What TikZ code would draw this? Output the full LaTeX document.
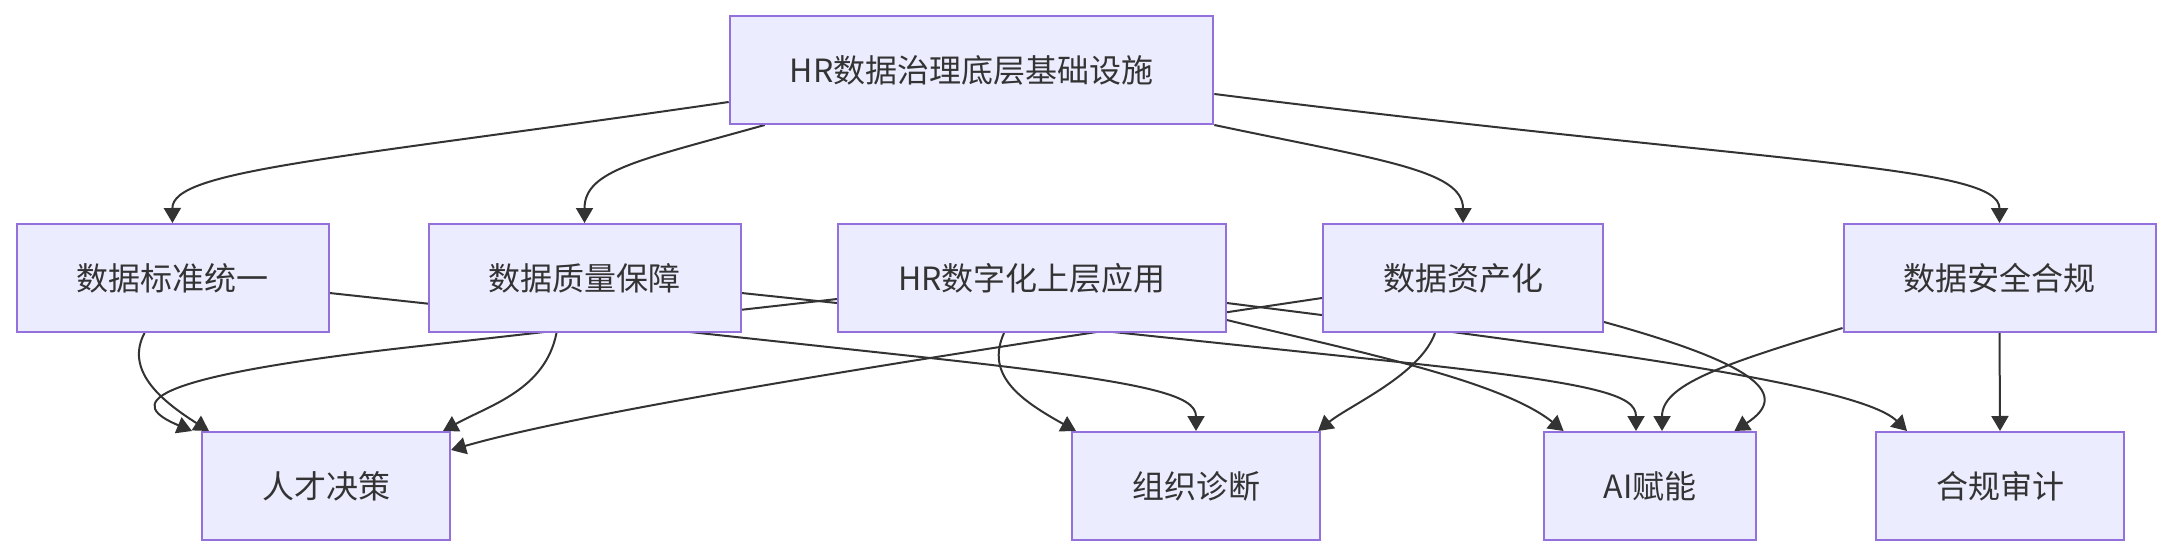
\documentclass[tikz,border=0pt]{standalone}
\usepackage{fontspec}
\newfontfamily\cjk{Noto Sans CJK SC}
\usetikzlibrary{arrows.meta,calc,backgrounds}
\definecolor{boxfill}{HTML}{ECECFF}
\definecolor{boxline}{HTML}{9370DB}
\definecolor{ink}{HTML}{333333}

\begin{document}
\begin{tikzpicture}[x=0.5pt, y=-0.5pt,
    box/.style={draw=boxline, fill=boxfill, line width=1pt, text=ink,
        minimum height=54pt, inner xsep=30pt, inner ysep=0pt,
        font=\cjk\fontsize{16pt}{19pt}\selectfont},
    link/.style={draw=ink, line width=1pt, -{Triangle[length=7.5pt,width=8.5pt]}}]
    \useasboundingbox (0,0) rectangle (2171,556);

    % Basis
    \node[box] (infra) at (971.5,70) {HR数据治理底层基础设施};

    % Mittlere Reihe
    \node[box] (std)      at (172.5,278)  {数据标准统一};
    \node[box] (quality)  at (584.5,278)  {数据质量保障};
    \node[box] (digital)  at (1032,278)   {HR数字化上层应用};
    \node[box] (asset)    at (1463,278)   {数据资产化};
    \node[box] (security) at (1999.5,278) {数据安全合规};

    % Anwendungen
    \node[box] (talent)  at (326,486)  {人才决策};
    \node[box] (orgdiag) at (1196,486) {组织诊断};
    \node[box] (ai)      at (1650,486) {AI赋能};
    \node[box] (audit)   at (2000,486) {合规审计};

    \begin{pgfonlayer}{background}
    % Basis -> mittlere Reihe
    \draw[link] ($(infra.west)+(0,32)$) .. controls (330,160) and (172,170) .. (std.north);
    \draw[link] ($(infra.south west)+(36,0)$) .. controls (640,160) and (584.5,170) .. (quality.north);
    \draw[link] (infra.south east) .. controls (1380,160) and (1463,170) .. (asset.north);
    \draw[link] ($(infra.east)+(0,24)$) .. controls (1780,165) and (1999.5,165) .. (security.north);

    % mittlere Reihe -> Anwendungen
    \draw[link] ($(std.south)+(-28,0)$) .. controls (125,370) and (160,400) .. ($(talent.north west)+(8,0)$);
    \draw[link] ($(std.east)+(0,15)$) -- (930,358) .. controls (1150,382) and (1196,395) .. (orgdiag.north);
    \draw[link] ($(quality.south)+(-28,0)$) .. controls (545,390) and (490,405) .. ($(talent.north east)+(-8,0)$);
    \draw[link] ($(quality.east)+(0,15)$) -- (1380,360) .. controls (1600,383) and (1636,395) .. ($(ai.north)+(-14,0)$);
    \draw[link] ($(digital.west)+(0,21)$) -- (420,346) .. controls (130,378) and (130,405) .. ($(talent.north west)+(-9,0)$);
    \draw[link] ($(digital.south)+(-28,0)$) .. controls (985,375) and (1020,400) .. ($(orgdiag.north west)+(5,0)$);
    \draw[link] ($(digital.east)+(0,42)$) .. controls (1350,350) and (1500,380) .. ($(ai.north west)+(21,0)$);
    \draw[link] ($(digital.east)+(0,25)$) .. controls (1600,350) and (1860,385) .. ($(audit.north west)+(32,0)$);
    \draw[link] ($(asset.west)+(0,20)$) .. controls (1000,346) and (600,407) .. ($(talent.east)+(0,-36)$);
    \draw[link] ($(asset.south)+(-28,0)$) .. controls (1420,375) and (1350,405) .. ($(orgdiag.north east)+(-3,0)$);
    \draw[link] ($(asset.east)+(0,44)$) .. controls (1760,365) and (1790,395) .. ($(ai.north east)+(-23,0)$);
    \draw[link] ($(security.west)+(0,50)$) .. controls (1720,365) and (1662,385) .. ($(ai.north)+(12,0)$);
    \draw[link] (security.south) -- (audit.north);
    \end{pgfonlayer}
\end{tikzpicture}
\end{document}
